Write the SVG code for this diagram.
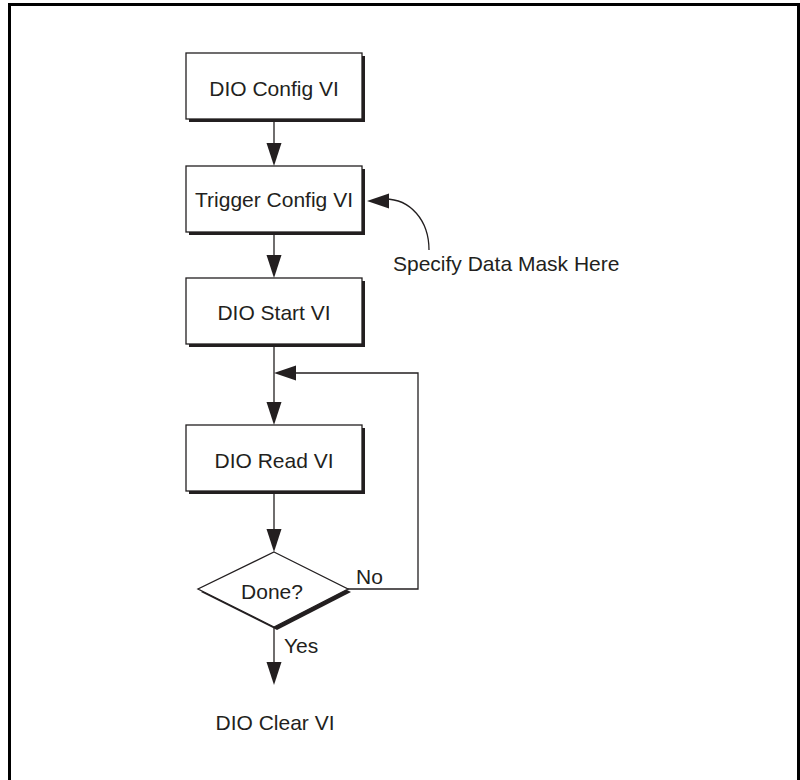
<svg xmlns="http://www.w3.org/2000/svg" width="800" height="780" viewBox="0 0 800 780">
  <style>
    .box { fill: #ffffff; stroke: #231f20; stroke-width: 1.3; }
    .shadow { fill: #231f20; }
    .line { fill: none; stroke: #231f20; stroke-width: 1.3; }
    .head { fill: #231f20; }
    .lbl { font-family: "Liberation Sans", Arial, Helvetica, sans-serif; font-size: 21px; fill: #231f20; }
    .mid { text-anchor: middle; }
  </style>
  <rect x="0" y="0" width="800" height="780" fill="#ffffff"/>
  <rect x="9.5" y="4.5" width="789" height="800" fill="none" stroke="#000000" stroke-width="3"/>

  <g id="connectors">
    <line class="line" x1="274" y1="119" x2="274" y2="146"/>
    <polygon class="head" points="266.5,143 281.5,143 274,166"/>
    <line class="line" x1="274" y1="232" x2="274" y2="258"/>
    <polygon class="head" points="266.5,255 281.5,255 274,278"/>
    <line class="line" x1="274" y1="344" x2="274" y2="405"/>
    <polygon class="head" points="266.5,402 281.5,402 274,425"/>
    <line class="line" x1="274" y1="491" x2="274" y2="532"/>
    <polygon class="head" points="266.5,529 281.5,529 274,552"/>
    <line class="line" x1="274" y1="627" x2="274" y2="665"/>
    <polygon class="head" points="266.5,662 281.5,662 274,685"/>
    <polyline class="line" points="348,589 418,589 418,373 292,373"/>
    <polygon class="head" points="274,373 296,365.5 296,380.5"/>
    <path class="line" d="M 385 199 C 410 199 429 220 429 250"/>
    <polygon class="head" points="367,201 389,193.5 389,208.5"/>
  </g>

  <g id="dio-config">
    <rect class="shadow" x="189" y="56" width="176" height="66"/>
    <rect class="box" x="186" y="53" width="176" height="66"/>
    <text class="lbl mid" x="274" y="96">DIO Config VI</text>
  </g>
  <g id="trigger-config">
    <rect class="shadow" x="189" y="169" width="176" height="66"/>
    <rect class="box" x="186" y="166" width="176" height="66"/>
    <text class="lbl mid" x="274" y="207">Trigger Config VI</text>
  </g>
  <g id="dio-start">
    <rect class="shadow" x="189" y="281" width="176" height="66"/>
    <rect class="box" x="186" y="278" width="176" height="66"/>
    <text class="lbl mid" x="274" y="320">DIO Start VI</text>
  </g>
  <g id="dio-read">
    <rect class="shadow" x="189" y="428" width="176" height="66"/>
    <rect class="box" x="186" y="425" width="176" height="66"/>
    <text class="lbl mid" x="274" y="468">DIO Read VI</text>
  </g>
  <g id="done">
    <polygon class="shadow" points="277,555 351,592 277,630 201,592"/>
    <polygon class="box" points="274,552 348,589 274,627 198,589"/>
    <text class="lbl mid" x="272" y="599">Done?</text>
    <text class="lbl" x="356" y="584">No</text>
    <text class="lbl" x="284" y="653">Yes</text>
  </g>
  <g id="dio-clear">
    <text class="lbl mid" x="275" y="730">DIO Clear VI</text>
  </g>
  <g id="note">
    <text class="lbl" x="393" y="271">Specify Data Mask Here</text>
  </g>
</svg>
